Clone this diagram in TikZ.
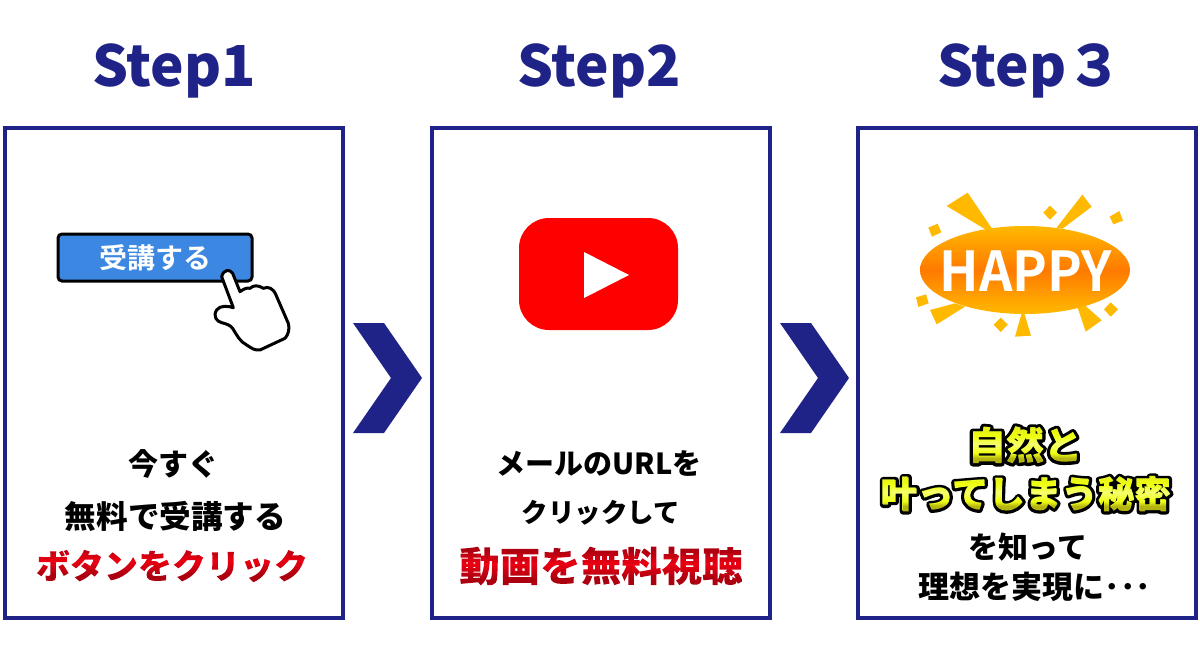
\documentclass[tikz,border=0pt]{standalone}
\usepackage{fontspec}
\setmainfont{Noto Sans CJK JP}[BoldFont={Noto Sans CJK JP Bold}]
\newfontfamily\jp{Noto Sans CJK JP Bold}
\newfontfamily\jpb{Noto Sans CJK JP Black}
\newfontfamily\jpk{Noto Sans CJK JP Black}[FakeBold=18]
\definecolor{navy}{HTML}{1F2388}
\definecolor{redtxt}{HTML}{C8000F}
\definecolor{ylw}{HTML}{EDFF2E}
\definecolor{btn}{HTML}{3B87E2}
\definecolor{amber}{HTML}{FFB900}
\definecolor{deep}{HTML}{FF7A00}
\definecolor{rdark}{HTML}{AC0010}
\definecolor{rlite}{HTML}{EC0012}
\definecolor{yolive}{HTML}{B4B410}
\definecolor{yedge}{HTML}{E6EE18}
\definecolor{ybase}{HTML}{EEFF10}
\definecolor{ypale}{HTML}{F6FF70}
\pgfdeclareverticalshading{gradr}{420bp}{color(0bp)=(rdark); color(8bp)=(rdark); color(22bp)=(rlite); color(36bp)=(rdark); color(45bp)=(rdark)}
\pgfdeclareverticalshading{grady}{420bp}{color(0bp)=(yolive); color(6bp)=(yolive); color(11bp)=(ybase); color(20bp)=(ypale); color(28bp)=(ybase); color(36bp)=(yedge); color(40bp)=(yedge)}
\newcommand{\gradtxt}[2]{\special{pdf:code q 7 Tr}#2\special{pdf:code 0 Tr}\smash{\hbox to 0pt{\hss\raisebox{-0.12em}{\pgfuseshading{#1}}}}\special{pdf:code Q}}
\newcommand{\roundstroke}{\special{pdf:code 1 j 1 J}}
\tikzset{
  panel/.style={draw=navy,line width=4.4pt,fill=white},
  chev/.style={fill=navy,draw=none},
  head/.style={text=navy,font=\jpb\fontsize{56.5}{56.5}\selectfont,inner sep=0pt},
  blk/.style={text=black,font=\jpb\fontsize{#1}{#1}\selectfont,inner sep=0pt},
  redt/.style={text=redtxt,font=\jpb\fontsize{#1}{#1}\selectfont,inner sep=0pt},
  yout/.style={text=black,font=\jpk\fontsize{#1}{#1}\selectfont,inner sep=0pt},
  yin/.style={text=ylw,font=\jpb\fontsize{#1}{#1}\selectfont,inner sep=0pt},
  ray/.style={fill=amber,draw=none},
}
\begin{document}
\begin{tikzpicture}[x=1pt,y=-1pt]
\useasboundingbox (0,0) rectangle (1200,664);
\fill[white] (0,0) rectangle (1200,664);
% headings
\node[head] (h1) at (174,71) {Step1};
\node[head] (h2) at (599,71) {Step2};
\node[head] (h3) at (1030,71) {Step３};
% panels
\draw[panel] (5.2,128) rectangle (342.8,617.7);
\draw[panel] (432.2,128) rectangle (769.8,617.7);
\draw[panel] (858.2,128) rectangle (1195.8,617.7);
% chevrons
\fill[chev] (353,323)--(384,323)--(422,378)--(384,433)--(353,433)--(391,378)--cycle;
\fill[chev] (780,323)--(811,323)--(849,378)--(811,433)--(780,433)--(818,378)--cycle;
% button
\draw[fill=btn,draw=black,line width=3pt,rounded corners=4pt] (58,234) rectangle (252,281);
\node[text=white,font=\jp\fontsize{28}{28}\selectfont,inner sep=0pt] (b) at (155,258) {受講する};
\begin{scope}[shift={(40,210)},x=0.3333pt,y=-0.3333pt]
\draw[fill=white,draw=black,line width=3pt,line join=round]
 (578,190) .. controls (570,178) and (552,176) .. (545,200) -- (580,293)
 .. controls (565,288) and (540,285) .. (530,300) .. controls (518,318) and (530,335) .. (545,338)
 .. controls (560,342) and (570,345) .. (578,355) .. controls (590,375) and (600,395) .. (620,405)
 .. controls (635,415) and (645,422) .. (660,420) -- (735,385) .. controls (745,375) and (750,355) .. (745,340)
 -- (708,255) .. controls (700,235) and (685,228) .. (670,235) .. controls (655,225) and (640,225) .. (630,235)
 .. controls (620,232) and (610,238) .. (600,245) -- cycle;
\end{scope}
% youtube
\fill[red,rounded corners=30pt] (519,218) rectangle (678,330);
\fill[white] (584,252)--(629,275)--(584,298)--cycle;
% happy
\begin{scope}[shift={(900,180)},x=0.3333pt,y=-0.3333pt]
\fill[ray] (140,78)--(203,38)--(276,146)--(256,148)--cycle;
\fill[ray] (470,143)--(547,44)--(575,80)--(488,146)--cycle;
\fill[ray] (90,390)--(165,370)--(195,380)--(110,433)--cycle;
\fill[ray] (345,470)--(365,400)--(373,400)--(393,467)--cycle;
\fill[ray] (532,380)--(557,378)--(605,421)--(557,455)--cycle;
\fill[ray] (430,98)--(450,77)--(471,98)--(450,119)--cycle;
\fill[ray] (629,110)--(658,93)--(669,122)--(640,133)--cycle;
\fill[ray] (85,143)--(113,131)--(124,157)--(96,170)--cycle;
\fill[ray] (48,352)--(78,343)--(86,370)--(55,381)--cycle;
\fill[ray] (612,388)--(632,367)--(654,388)--(632,410)--cycle;
\fill[ray] (281,434)--(302,413)--(323,434)--(302,456)--cycle;
\end{scope}
\shade[top color=amber,bottom color=amber,middle color=deep] (1025,270) ellipse [x radius=105pt,y radius=44pt];
\node[text=white,font=\jp\fontsize{55}{55}\selectfont,inner sep=0pt,xscale=.95] (hp) at (1026,271) {HAPPY};
% texts 1
\node[blk=30] (t1a) at (173,464) {今すぐ};
\node[blk=31.6] (t1b) at (175.5,516) {無料で受講する};
\node[redt=34] (t1c) at (172,566) {\gradtxt{gradr}{ボタンをクリック}};
% texts 2
\node[blk=29] (t2a) at (599,464) {メールのURLを};
\node[blk=26.5] (t2b) at (601,513) {クリックして};
\node[redt=40.5] (t2c) at (601,566) {\gradtxt{gradr}{動画を無料視聴}};
% texts 3
\node[yout=38] (t3ak) at (1025,445) {\roundstroke 自然と};
\node[yin=38] (t3a) at (1025,445) {\rlap{自然と}\gradtxt{grady}{自然と}};
\node[yout=36.5] (t3bk) at (1026,494) {\roundstroke 叶ってしまう秘密};
\node[yin=36.5] (t3b) at (1026,494) {\rlap{叶ってしまう秘密}\gradtxt{grady}{叶ってしまう秘密}};
\node[blk=30] (t3c) at (1028,547) {を知って};
\node[blk=31] (t3d) at (1035,587) {理想を実現に･･･};
\end{tikzpicture}
\end{document}
